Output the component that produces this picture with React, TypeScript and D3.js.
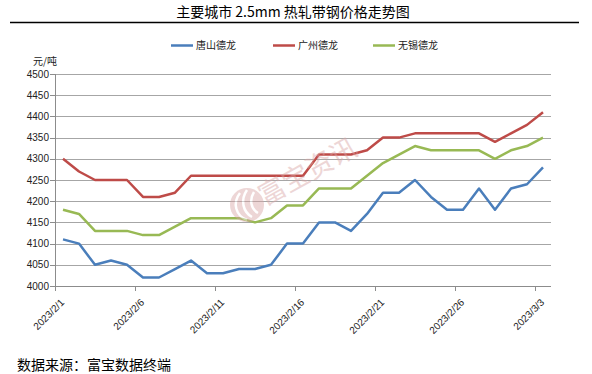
import React from 'react';
import * as d3 from 'd3';

// categories (calendar days)
const dates = [
  '2023/2/1', '2023/2/2', '2023/2/3', '2023/2/4', '2023/2/5', '2023/2/6', '2023/2/7', '2023/2/8',
  '2023/2/9', '2023/2/10', '2023/2/11', '2023/2/12', '2023/2/13', '2023/2/14', '2023/2/15', '2023/2/16',
  '2023/2/17', '2023/2/18', '2023/2/19', '2023/2/20', '2023/2/21', '2023/2/22', '2023/2/23', '2023/2/24',
  '2023/2/25', '2023/2/26', '2023/2/27', '2023/2/28', '2023/3/1', '2023/3/2', '2023/3/3',
];

const tangshan = [
  4110, 4100, 4050, 4060, 4050, 4020, 4020, 4040, 4060, 4030, 4030, 4040, 4040, 4050, 4100, 4100,
  4150, 4150, 4130, 4170, 4220, 4220, 4250, 4210, 4180, 4180, 4230, 4180, 4230, 4240, 4280,
];
const guangzhou = [
  4300, 4270, 4250, 4250, 4250, 4210, 4210, 4220, 4260, 4260, 4260, 4260, 4260, 4260, 4260, 4260,
  4310, 4310, 4310, 4320, 4350, 4350, 4360, 4360, 4360, 4360, 4360, 4340, 4360, 4380, 4410,
];
const wuxi = [
  4180, 4170, 4130, 4130, 4130, 4120, 4120, 4140, 4160, 4160, 4160, 4160, 4150, 4160, 4190, 4190,
  4230, 4230, 4230, 4260, 4290, 4310, 4330, 4320, 4320, 4320, 4320, 4300, 4320, 4330, 4350,
];

const seriesNames = ['唐山德龙', '广州德龙', '无锡德龙'];
const seriesColors = ['#4a7ebb', '#be4b48', '#98b954'];
const yTicks = [4000, 4050, 4100, 4150, 4200, 4250, 4300, 4350, 4400, 4450, 4500];

const W = 592;
const H = 374;
const plot = { left: 55, right: 551, top: 74, bottom: 286 };

export default function App() {
  const series = [tangshan, guangzhou, wuxi];

  const x = d3.scaleBand<string>().domain(dates).range([plot.left, plot.right]).padding(0);
  const y = d3.scaleLinear().domain([4000, 4500]).range([plot.bottom, plot.top]);
  const cx = (d: string) => (x(d) ?? 0) + x.bandwidth() / 2;

  const line = d3
    .line<number>()
    .x((_, i) => cx(dates[i]))
    .y((v) => y(v));

  const labelIdx = dates.map((_, i) => i).filter((i) => i % 5 === 0);
  const axisFont = '"Liberation Sans", Arial, sans-serif';
  const cjkFont = '"Noto Sans CJK SC", sans-serif';

  return (
    <svg
      width={W}
      height={H}
      style={{ position: 'absolute', left: 0, top: 0, background: '#fff' }}
    >
      {/* title */}
      <text x={293} y={17} textAnchor="middle" fontFamily={cjkFont} fontSize={14} fill="#000">
        主要城市 2.5mm 热轧带钢价格走势图
      </text>
      <line x1={10} x2={579} y1={22.5} y2={22.5} stroke="#000" strokeWidth={1.5} />

      {/* legend */}
      {seriesNames.map((name, i) => {
        const lx = [171, 273, 373][i];
        return (
          <g key={name}>
            <line x1={lx} x2={lx + 22} y1={45.5} y2={45.5} stroke={seriesColors[i]} strokeWidth={2.5} />
            <text x={lx + 25} y={49} fontFamily={cjkFont} fontSize={10} fill="#222">
              {name}
            </text>
          </g>
        );
      })}

      {/* unit */}
      <text x={33} y={65} fontFamily={cjkFont} fontSize={10} fill="#222">
        元/吨
      </text>

      {/* gridlines + y ticks */}
      {yTicks.map((t) => (
        <g key={t}>
          {t !== 4000 && (
            <line x1={plot.left} x2={plot.right} y1={Math.round(y(t)) + 0.5} y2={Math.round(y(t)) + 0.5} stroke="#a6a6a6" />
          )}
          <line x1={plot.left - 5} x2={plot.left} y1={Math.round(y(t)) + 0.5} y2={Math.round(y(t)) + 0.5} stroke="#8c8c8c" />
          <text x={plot.left - 6} y={y(t) + 3.5} textAnchor="end" fontFamily={axisFont} fontSize={10} fill="#222">
            {t}
          </text>
        </g>
      ))}

      {/* axes */}
      <line x1={plot.left + 0.5} x2={plot.left + 0.5} y1={plot.top} y2={plot.bottom + 4} stroke="#8c8c8c" />
      <line x1={plot.left} x2={plot.right} y1={plot.bottom + 0.5} y2={plot.bottom + 0.5} stroke="#8c8c8c" />
      {labelIdx.map((i) => {
        const tx = Math.round(x(dates[i]) ?? 0) + 0.5;
        const lx = cx(dates[i]) + 2;
        const ly = plot.bottom + 17;
        return (
          <g key={dates[i]}>
            <line x1={tx} x2={tx} y1={plot.bottom} y2={plot.bottom + 5} stroke="#8c8c8c" />
            <text
              x={lx}
              y={ly}
              textAnchor="end"
              transform={`rotate(-45 ${lx} ${ly})`}
              fontFamily={axisFont}
              fontSize={10}
              fill="#222"
            >
              {dates[i]}
            </text>
          </g>
        );
      })}

      {/* series lines */}
      {series.map((s, i) => (
        <path
          key={seriesNames[i]}
          d={line(s) ?? ''}
          fill="none"
          stroke={seriesColors[i]}
          strokeWidth={2.5}
          strokeLinejoin="round"
        />
      ))}

      {/* watermark */}
      <g opacity={0.45}>
        <circle cx={247} cy={205} r={17} fill="#d9a5a5" />
        <path d="M240,193 C232,203 236,216 247,220" fill="none" stroke="#fff" strokeWidth={2.5} />
        <path d="M247,190 C240,200 243,212 252,217" fill="none" stroke="#fff" strokeWidth={2.5} />
        <path d="M254,192 C249,200 251,209 258,213" fill="none" stroke="#fff" strokeWidth={2.5} />
        <text
          x={265}
          y={206}
          transform="rotate(-29 265 206)"
          fontFamily={cjkFont}
          fontSize={27}
          fill="#d9a5a5"
        >
          富宝资讯
        </text>
      </g>

      {/* source */}
      <text x={17} y={370} fontFamily={cjkFont} fontSize={14} fill="#000">
        数据来源：富宝数据终端
      </text>
    </svg>
  );
}
